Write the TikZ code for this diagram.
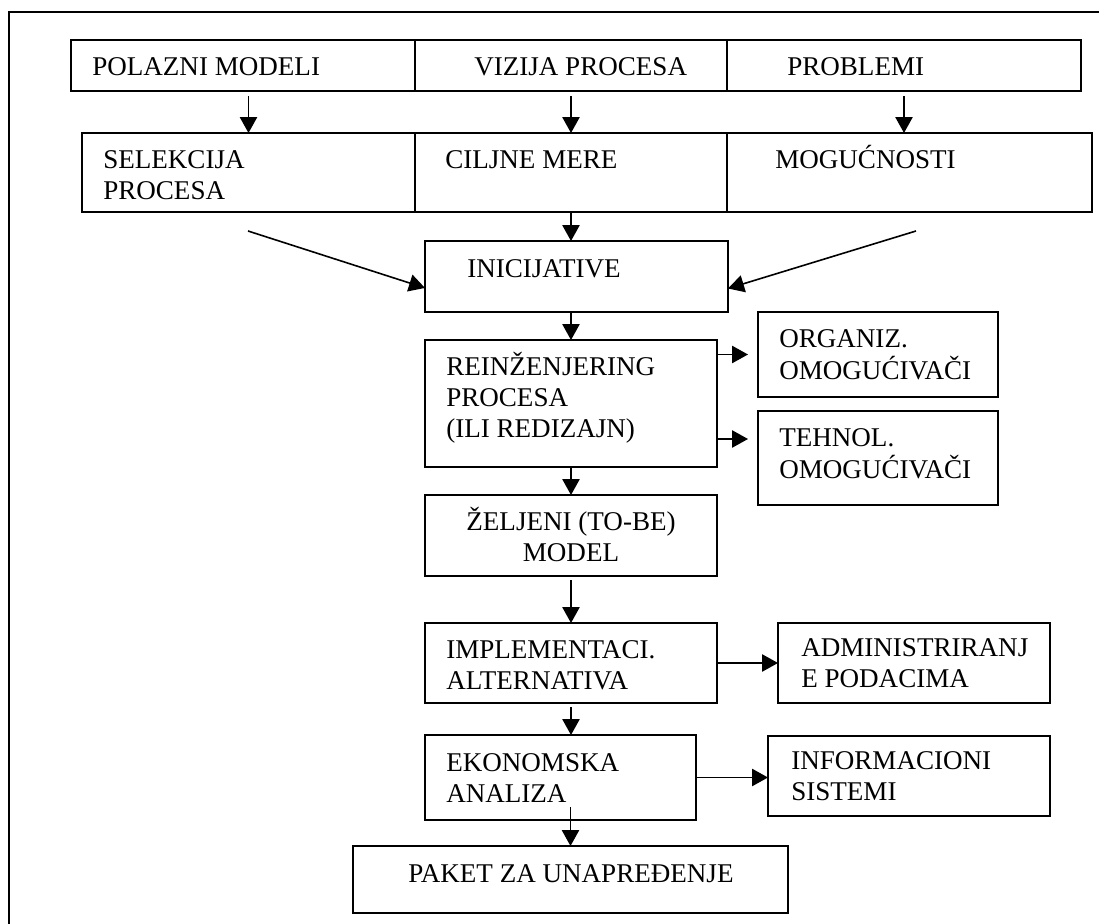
\documentclass[tikz,border=0pt]{standalone}
\usepackage{fontspec}
\setmainfont{Liberation Serif}
\usetikzlibrary{arrows.meta,calc}
\newcommand{\lns}[1]{\begin{tabular}[t]{@{}l@{}}#1\end{tabular}}
\newcommand{\clns}[1]{\begin{tabular}[t]{@{}c@{}}#1\end{tabular}}
\begin{document}
\begin{tikzpicture}[x=0.75pt,y=-0.75pt,
  box/.style 2 args={draw, line width=1.5pt, inner sep=0pt, outer sep=0pt,
    minimum width=#1*0.75pt, minimum height=#2*0.75pt},
  lbl/.style={anchor=base west, inner sep=0pt, font=\fontsize{20.3}{23.25}\selectfont},
  arr/.style={line width=1.2pt, -{Triangle[length=12pt,width=13pt]}},
  frame/.style={line width=1.1pt}]
\useasboundingbox (0,0) rectangle (1099,924);
% outer frame (cropped: left and top visible)
\draw[frame] (9,924) |- (1099,12);
% top row
\node[box={344}{51}] (pol) at (243,65.5) {};
\node[box={312}{51}] (vis) at (571,65.5) {};
\node[box={354}{51}] (prob) at (904,65.5) {};
% second row
\node[box={333}{79}] (sel) at (248.5,172.5) {};
\node[box={312}{79}] (cil) at (571,172.5) {};
\node[box={365}{79}] (mog) at (909.5,172.5) {};
% middle column
\node[box={303}{71}] (inic) at (576.5,276.5) {};
\node[box={292}{127}] (rein) at (571,403.5) {};
\node[box={240}{85}] (org) at (878,354.5) {};
\node[box={240}{94}] (teh) at (878,458) {};
\node[box={292}{81}] (zel) at (571,535.5) {};
\node[box={292}{80}] (impl) at (571,663) {};
\node[box={272}{80}] (adm) at (914,663) {};
\node[box={271}{85}] (eko) at (560.5,777.5) {};
\node[box={282}{80}] (inf) at (909,776) {};
\node[box={435}{67}] (pak) at (570.5,879.5) {};
% texts
\node[lbl] (tpol) at (92,75) {POLAZNI MODELI};
\node[lbl] (tvis) at (474,75) {VIZIJA PROCESA};
\node[lbl] (tprob) at (787,75) {PROBLEMI};
\node[lbl] (tsel) at (103,168) {\lns{SELEKCIJA\\PROCESA}};
\node[lbl] (tcil) at (445,168) {CILJNE MERE};
\node[lbl] (tmog) at (775,168) {MOGUĆNOSTI};
\node[lbl] (tinic) at (467,277) {INICIJATIVE};
\node[lbl] (trein) at (446,375) {\lns{REINŽENJERING\\PROCESA\\(ILI REDIZAJN)}};
\node[lbl] (torg) at (779,347) {\lns{ORGANIZ.\\OMOGUĆIVAČI}};
\node[lbl] (tteh) at (779,446) {\lns{TEHNOL.\\OMOGUĆIVAČI}};
\node[lbl, anchor=base] (tzel) at (571,530) {\clns{ŽELJENI (TO-BE)\\MODEL}};
\node[lbl] (timpl) at (446,658) {\lns{IMPLEMENTACI.\\ALTERNATIVA}};
\node[lbl] (tadm) at (801,656) {\lns{ADMINISTRIRANJ\\E PODACIMA}};
\node[lbl] (teko) at (446,771) {\lns{EKONOMSKA\\ANALIZA}};
\node[lbl] (tinf) at (791,769) {\lns{INFORMACIONI\\SISTEMI}};
\node[lbl] (tpak) at (408,882) {PAKET ZA UNAPREĐENJE};
% connectors
\draw[arr, shorten <=3.75pt] (sel.north |- pol.south) -- (sel.north);
\draw[arr, shorten <=3.75pt] (vis.south) -- (vis.south |- cil.north);
\draw[arr, shorten <=3.75pt] (prob.south) -- (prob.south |- mog.north);
\draw[arr] (cil.south) -- (cil.south |- inic.north);
\coordinate (dl) at (248,231);
\coordinate (dr) at (916,231);
\draw[arr] (dl) -- ([yshift=-8.6pt]inic.west);
\draw[arr] (dr) -- ([yshift=-9pt]inic.east);
\draw[arr] (rein.north |- inic.south) -- (rein.north);
\draw[arr, shorten >=7.5pt] (rein.east |- org.west) -- (org.west);
\coordinate (t2) at ($(teh.west)+(0,-19)$);
\draw[arr, shorten >=7.5pt] (rein.east |- t2) -- (t2);
\draw[arr] (rein.south) -- (zel.north);
\draw[arr, shorten <=3pt] (zel.south) -- (impl.north);
\draw[arr] (impl.east) -- (adm.west);
\draw[arr, shorten <=3pt] (impl.south) -- (impl.south |- eko.north);
\draw[arr] (eko.east) -- (eko.east -| inf.west);
\draw[arr, shorten <=-9.75pt] (pak.north |- eko.south) -- (pak.north);
\end{tikzpicture}
\end{document}
